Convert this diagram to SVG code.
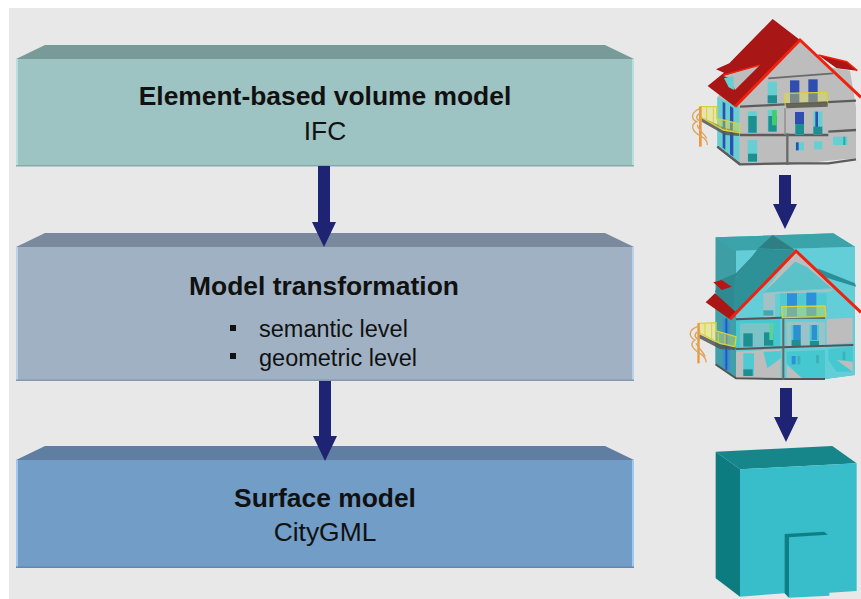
<svg xmlns="http://www.w3.org/2000/svg" width="861" height="599" viewBox="0 0 861 599">
<style>
text{font-family:"Liberation Sans",Arial,sans-serif;text-anchor:middle;fill:#111}
.t{font-size:26.4px;font-weight:bold}
.s{font-size:26.4px}
.b{font-size:23.5px;text-anchor:start}
.arrow{fill:#1f2373}
.wall{fill:#bdbdbd}
.dk{fill:none;stroke:#5c5c5c;stroke-width:7}
.win{fill:#66cfd2}
.low{fill:#1f8f93}
.blue{fill:#2f4fb0}
.red{fill:#a81212}
.edge{fill:none;stroke:#ee2010;stroke-width:9}
.rail{fill:#e6e04a;fill-opacity:.4;stroke:#d8d23c;stroke-width:4}
.bars{fill:none;stroke:#d8d23c;stroke-width:3}
.bal{fill:#555;fill-opacity:.85}
.stair{fill:none;stroke:#dba45c;stroke-width:4}
.post{fill:#e89a3a}
.glass{fill:#35c4cf;fill-opacity:.72}
</style>
<defs>
<filter id="soft" x="-5%" y="-5%" width="110%" height="110%"><feGaussianBlur stdDeviation="0.55"/></filter>
</defs>
<rect x="0" y="0" width="861" height="599" fill="#ffffff"/>
<rect x="9" y="8" width="852" height="591" fill="#e8e8e8"/>

<g id="node-ifc">
<polygon points="45,45 605,45 634,59 16,59" fill="#789a98"/>
<rect x="16" y="59" width="618" height="107" fill="#9dc3c2"/>
<rect x="16" y="59" width="2" height="107" fill="#b5e0de"/>
<rect x="632" y="59" width="2" height="107" fill="#b5e0de"/>
<rect x="16" y="165" width="618" height="1.5" fill="#86aaa9"/>
<text class="t" x="325" y="105">Element-based volume model</text>
<text class="s" x="325" y="140">IFC</text>
</g>

<g id="node-transformation">
<polygon points="45,233 605,233 634,247 16,247" fill="#7a8a9c"/>
<rect x="16" y="247" width="618" height="134" fill="#a0b1c4"/>
<rect x="16" y="247" width="2" height="134" fill="#b8d2ea"/>
<rect x="632" y="247" width="2" height="134" fill="#b8d2ea"/>
<rect x="16" y="379.500" width="618" height="1.500" fill="#8698ac"/>
<text class="t" x="324" y="295">Model transformation</text>
<rect x="230" y="325" width="6" height="6" fill="#111"/>
<text class="b" x="259" y="337">semantic level</text>
<rect x="230" y="353" width="6" height="6" fill="#111"/>
<text class="b" x="259" y="366">geometric level</text>
</g>

<g id="node-surface">
<polygon points="45,446 605,446 634,460 16,460" fill="#5f7ea2"/>
<rect x="16" y="460" width="618" height="108" fill="#729dc7"/>
<rect x="16" y="460" width="2" height="108" fill="#a0c8ee"/>
<rect x="632" y="460" width="2" height="108" fill="#a0c8ee"/>
<rect x="16" y="566.500" width="618" height="1.500" fill="#6288b0"/>
<text class="t" x="325" y="507">Surface model</text>
<text class="s" x="325" y="541">CityGML</text>
</g>

<g id="house-detailed" filter="url(#soft)" transform="translate(680,10) scale(.33333)">
<polygon class="red" points="415,135 500,155 532,182 470,175"/>
<polyline points="415,135 500,155 532,182" fill="none" stroke="#ee2010" stroke-width="5"/>
<polygon points="440,170 510,182 528,290 528,445 445,452 325,465 180,463 112,410 112,262 165,190 360,92" class="wall"/>
<polyline class="dk" points="180,290 528,272"/><polyline class="dk" points="180,375 445,375"/><polyline class="dk" points="445,365 528,360"/><polyline class="dk" points="112,410 180,463 325,460 445,460 528,448"/>
<polyline points="265,205 460,190" fill="none" stroke="#6a6a6a" stroke-width="5"/>
<polyline points="322,370 322,465" fill="none" stroke="#6a6a6a" stroke-width="7"/>
<polyline points="315,295 315,375" fill="none" stroke="#8a8a8a" stroke-width="4"/>
<g><rect class="win" x="263" y="215" width="28" height="65"/><rect class="low" x="263" y="256" width="28" height="24"/>
<rect class="blue" x="330" y="211" width="28" height="70"/><rect class="blue" x="385" y="208" width="28" height="70"/>
<rect class="win" x="203" y="304" width="28" height="65"/><rect class="low" x="205" y="318" width="25" height="50"/>
<rect class="win" x="263" y="300" width="28" height="65"/><rect class="low" x="265" y="318" width="25" height="47"/><rect x="276" y="300" width="14" height="46" fill="#3ecf6a"/>
<rect class="win" x="345" y="306" width="27" height="68"/><rect class="blue" x="345" y="306" width="27" height="36"/><rect class="low" x="346" y="342" width="26" height="32"/>
<rect class="win" x="400" y="305" width="27" height="68"/><rect class="blue" x="406" y="305" width="8" height="58"/><rect class="low" x="400" y="350" width="27" height="22"/>
<rect class="win" x="203" y="390" width="29" height="65"/><rect class="low" x="204" y="431" width="27" height="24"/>
<rect class="win" x="346" y="397" width="26" height="24"/><rect class="blue" x="348" y="397" width="8" height="24"/>
<rect class="win" x="402" y="394" width="25" height="24"/>
<rect class="win" x="459" y="380" width="43" height="25"/><rect x="490" y="380" width="6" height="25" fill="#2aa7ab"/>
</g>
<g><polygon class="win" points="112,262 178,290 178,455 112,408"/><polygon class="blue" points="128,275 136,280 136,420 128,412"/><polygon class="blue" points="150,288 160,294 160,440 150,432"/></g>
<polyline class="dk" points="112,410 180,463"/>
<polygon class="red" points="278,27 360,90 165,290 83,228 132,188 108,178 148,160"/>
<polygon class="wall" points="130,198 240,165 165,240 150,205"/>
<polygon class="win" points="132,205 160,198 162,240 146,232"/>
<polyline points="130,195 240,165" fill="none" stroke="#ee2010" stroke-width="5"/>
<polyline class="edge" points="165,290 360,90 543,262"/>
<polygon class="rail" points="313,250 440,247 443,282 316,285"/>
<polygon class="bal" points="316,280 443,275 443,290 320,295"/>
<polygon class="bal" points="65,322 130,352 178,366 178,378 135,375 65,335"/>
<polygon class="rail" points="60,290 110,290 110,325 180,342 178,368 130,360 60,320"/>
<path class="bars" d="M80 292V330M100 292V340M120 330V355M140 335V362M160 340V366"/>
<rect class="post" x="57" y="290" width="8" height="120"/>
<path class="stair" d="M60 296C35 305 30 325 50 335C30 345 35 365 65 380C75 385 82 395 82 405"/>
<path class="stair" d="M60 310C45 318 48 328 62 335M52 345C55 360 72 370 80 385"/>
</g>

<g id="house-overlay" filter="url(#soft)" transform="translate(680,225) scale(.33333)">
<polygon points="107,37 460,25 525,65 525,450 435,462 310,465 165,460 107,420" fill="#46b7bf" fill-opacity=".9"/>
<polygon points="107,37 460,25 525,65 168,77" fill="#3ba4aa"/>
<polygon points="107,37 168,77 168,460 107,420" fill="#3d9ea4"/>
<polygon points="168,77 525,65 525,450 435,462 310,465 168,460" fill="#63cdd8"/>
<polygon points="250,205 345,80 460,190" fill="#bdbdbd"/>
<polygon class="glass" points="345,110 380,125 455,190 250,203 290,165"/>
<polygon points="250,205 460,192 450,200 285,208 285,280 250,280" fill="#bdbdbd" fill-opacity=".7"/>
<rect x="300" y="205" width="140" height="75" fill="#4fcad3"/>
<polygon points="168,280 300,275 300,370 168,375" fill="#47c8d0"/>
<rect x="180" y="295" width="100" height="75" fill="#bdbdbd" fill-opacity=".45"/>
<polygon points="190,325 218,325 218,365 190,365" class="low"/><polygon points="252,322 280,322 280,362 252,362" class="low"/><rect x="268" y="295" width="12" height="50" fill="#58d49a"/>
<polygon points="250,256 280,256 280,272 250,272" fill="#3fa9ad"/>
<polygon points="440,282 518,278 518,352 440,360" fill="#bdbdbd"/>
<polygon points="168,380 302,372 302,462 168,460" fill="#bdbdbd"/>
<rect x="190" y="385" width="32" height="68" fill="#4fcad3"/><rect x="190" y="433" width="28" height="20" class="low"/>
<polygon points="250,380 302,378 302,400 262,430" fill="#4fcad3"/>
<polygon points="320,380 435,375 435,460 365,460 320,415" fill="#45c8d0"/>
<polygon points="320,420 365,458 320,460" fill="#bdbdbd"/>
<polygon points="445,372 518,365 518,440 470,440 445,405" fill="#45c8d0"/>
<polygon points="470,405 518,410 518,440" fill="#bdbdbd"/>
<rect x="320" y="290" width="115" height="78" fill="#bdbdbd" fill-opacity=".6"/>
<rect x="334" y="300" width="28" height="65" fill="#4fcad3"/><rect x="340" y="300" width="22" height="45" fill="#2f90d0"/><rect x="335" y="345" width="27" height="20" class="low"/>
<rect x="389" y="300" width="28" height="65" fill="#4fcad3"/><rect x="395" y="300" width="16" height="45" fill="#2f90d0"/><rect x="390" y="348" width="27" height="17" class="low"/>
<rect x="321" y="205" width="30" height="70" fill="#2f90d8"/><rect x="379" y="203" width="30" height="70" fill="#2f90d8"/>
<rect x="335" y="393" width="12" height="25" fill="#2f90d8"/><rect x="352" y="393" width="9" height="25" fill="#3fb0b8"/><rect x="408" y="390" width="9" height="25" fill="#3fb0b8"/><rect x="488" y="380" width="8" height="25" fill="#3fb0b8"/>
<polygon points="107,240 168,275 168,458 107,418" fill="#3f9fa8"/>
<polygon points="128,280 150,290 150,440 128,425" fill="#3b8fd0"/><rect x="136" y="280" width="6" height="155" fill="#1f5fb0"/>
<polygon points="412,130 525,175 528,185 430,155" fill="#2a8f98"/>
<polygon points="235,70 278,30 345,75" fill="#2f7f84"/>
<polygon points="235,70 345,75 160,270 165,160" fill="#2e9198"/>
<polygon points="120,165 168,145 230,80 165,160 160,270 105,200" fill="#2d8a90"/>
<polygon points="105,205 168,262 150,283 77,232" fill="#a81212"/>
<polygon points="100,172 125,165 155,185 125,195" fill="#b81515"/>
<polyline class="edge" points="150,283 348,78 543,262"/>
<polyline points="168,283 305,278 435,278" fill="none" stroke="#555" stroke-width="6"/>
<polyline points="168,372 305,367 520,360" fill="none" stroke="#555" stroke-width="6"/>
<polyline points="107,418 168,460 310,462 435,462" fill="none" stroke="#555" stroke-width="6"/>
<polyline points="310,280 310,465" fill="none" stroke="#666" stroke-width="6"/>
<polygon class="rail" points="305,245 435,243 438,275 307,278"/>
<polygon class="bal" points="58,328 120,358 168,365 165,375 120,372 58,340"/>
<polygon class="rail" points="55,295 108,293 108,318 168,335 165,365 120,355 60,325"/>
<path class="bars" d="M75 296V335M95 295V345M115 325V352M135 330V358"/>
<rect x="52" y="295" width="7" height="120" fill="#e89a3a"/>
<path class="stair" d="M52 305C25 315 25 335 45 345C28 355 35 370 60 385C72 392 80 405 78 412"/><path class="stair" d="M52 320C40 330 45 340 60 345M48 355C55 370 70 380 75 395"/>
</g>

<g id="block-surface" filter="url(#soft)" transform="translate(700,430) scale(.33333)">
<polygon points="47,65 397,48 470,100 120,118" fill="#16868a"/>
<polygon points="47,65 120,118 120,500 47,445" fill="#0e7c80"/>
<polygon points="120,118 470,100 470,483 388,488 388,497 267,503 254,490 120,500" fill="#39bdcb"/>
<polygon points="254,312 372,305 384,314 267,322 267,503 254,490" fill="#0f8085"/>
</g>

<g id="connectors">
<path class="arrow" d="M318 166H330V222H336L324 247L312 222H318Z"/>
<path class="arrow" d="M319 381H331V436H337L325 461L313 436H319Z"/>
<path class="arrow" d="M779 175H791V204H797L785 229L773 204H779Z"/>
<path class="arrow" d="M780 388H792V417H798L786 442L774 417H780Z"/>
</g>
</svg>
